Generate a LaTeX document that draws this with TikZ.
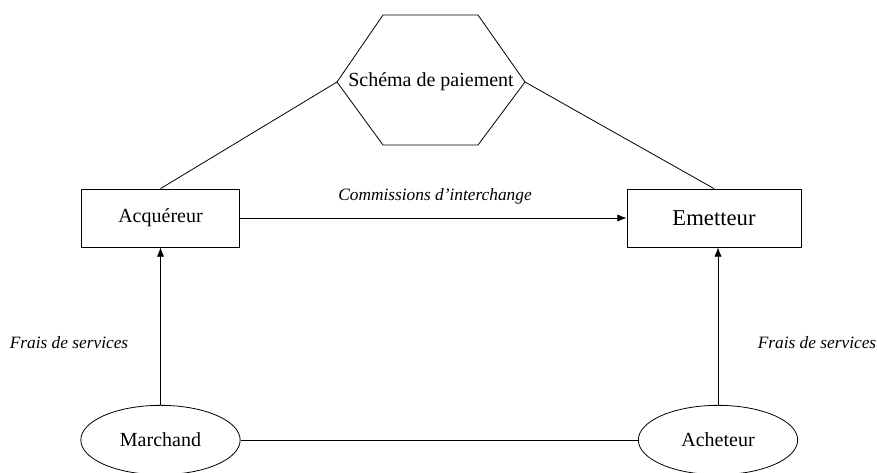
\documentclass[tikz,border=0pt]{standalone}
\usepackage{fontspec}
\setmainfont{Liberation Serif}
\usetikzlibrary{shapes,arrows.meta}
\tikzset{every node/.style={align=center,inner sep=0pt}}
\tikzset{every path/.style={semithick}}
\tikzset{arr/.style={-{Latex[length=7pt,width=5.5pt]}}}
\tikzset{box/.style={rectangle,draw,minimum width=119pt,minimum height=43.5pt}}
\tikzset{actor/.style={ellipse,draw,minimum width=119.5pt,minimum height=52pt}}
\tikzset{lbl/.style={font=\fontsize{13}{15}\selectfont\itshape}}
\begin{document}
\begin{tikzpicture}[x=0.75pt,y=-0.75pt,font=\fontsize{15}{18}\selectfont]
\useasboundingbox (0,0) rectangle (877,472);
\draw (383,15) -- (478,15) -- (525,82) coordinate (hexR) -- (478,145) -- (383,145) -- (337,82) coordinate (hexL) -- cycle;
\node (schema) at (431,82) {Schéma de paiement};
\node[box] (acq) at (160.5,218) {Acquéreur};
\node[box,minimum width=130.5pt,font=\fontsize{17}{20}\selectfont] (emt) at (714,218) {Emetteur};
\node[actor] (mar) at (160.5,440) {Marchand};
\node[actor] (ach) at (718,440) {Acheteur};
\node[lbl] (com) at (435,196) {Commissions d'interchange};
\node[lbl] (fraisA) at (69,343) {Frais de services};
\node[lbl] (fraisE) at (817,343) {Frais de services};
\draw (hexL) -- (acq.north);
\draw (hexR) -- (emt.north);
\draw[arr] (acq) -- (emt);
\draw[arr] (mar) -- (acq);
\draw[arr] (ach.north) -- (ach.north |- emt.south);
\draw (mar) -- (ach);
\end{tikzpicture}
\end{document}
